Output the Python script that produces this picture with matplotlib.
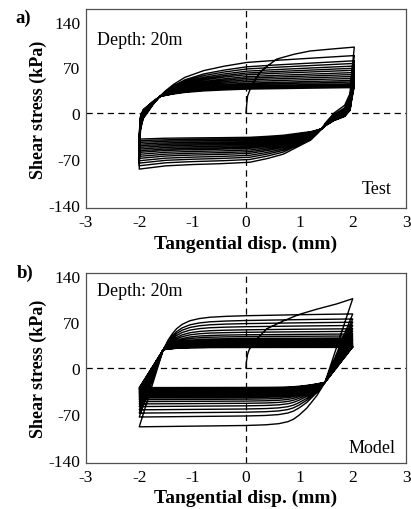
import numpy as np
import matplotlib
matplotlib.use("Agg")
import matplotlib.pyplot as plt

plt.rcParams['font.family'] = ['Liberation Serif', 'DejaVu Serif']
plt.rcParams['axes.unicode_minus'] = False

# ---- data ----
# Test: initial loading curve
test_init_x = [0, 0.01, 0.03, 0.08, 0.15, 0.26, 0.4, 0.58, 0.9, 1.2, 1.6, 2.03]
test_init_y = [0, 10, 26, 37, 48, 62, 72, 82.7, 90, 95, 98, 101]
# stress at the reversal points of each cycle (x=-2 and x=+2)
test_lo = [-85.8, -80.7, -76.6, -73, -69.4, -66.3, -63.2, -60.2, -57.7, -55.1,
           -52.5, -50, -47.5, -44.9, -42.4, -39.8]
test_hi = [88, 80, 76, 72, 68.6, 65.5, 62, 59, 56, 53, 50, 47.5, 45, 43, 41, 39]
test_xrev = (-2.0, 2.03)
# knee points shared by all branches
test_knee_up = (-1.62, 25)
test_knee_dn = (1.42, -24)
# branch shapes: reversal -> knee (u, v) and knee -> end (u, f), as fractions
test_up1_u = [0, 0.026, 0.066, 0.2, 0.395, 0.658, 1]
test_up1_v = [0, 0.369, 0.55, 0.7, 0.775, 0.883, 1]
test_up2_u = [0, 0.03, 0.072, 0.13, 0.227, 0.33, 0.448, 0.6, 0.72, 0.86, 1]
test_up2_f = [0, 0.14, 0.30, 0.47, 0.635, 0.74, 0.833, 0.885, 0.92, 0.96, 1]
test_dn1_u = [0, 0.082, 0.131, 0.295, 0.623, 0.869, 1]
test_dn1_v = [0, 0.328, 0.568, 0.712, 0.808, 0.92, 1]
test_dn2_u = [0, 0.026, 0.06, 0.12, 0.21, 0.3, 0.394, 0.55, 0.707, 0.854, 1]
test_dn2_f = [0, 0.129, 0.28, 0.419, 0.629, 0.74, 0.83, 0.865, 0.887, 0.919, 1]

# Model
model_init_x = [0, 0.005, 0.03, 0.06, 0.14, 0.39, 0.7, 1.0, 1.33, 1.7, 2.0]
model_init_y = [0, 8, 21, 28, 39, 60, 72, 82, 90, 98, 106]
model_lo = [-90, -75, -69, -64, -59, -55, -51.5, -48.5, -46, -44, -42, -40,
            -38.5, -37, -35.5, -34, -33, -32, -31, -30]
model_hi = [82.7, 75, 70, 65, 60, 56, 52, 49, 46, 44, 42, 40, 38, 36.5, 35,
            34, 33, 32.5, 32, 31.5]
model_xrev = (-2.0, 2.0)
model_knee_up = (-1.55, 28)
model_knee_dn = (1.48, -22)
model_up1_u = [0, 1]
model_up1_v = [0, 1]
model_up2_u = [0, 0.028, 0.05, 0.07, 0.1, 0.141, 0.19, 0.246, 0.33, 0.437, 0.718, 1]
model_up2_f = [0, 0.29, 0.46, 0.585, 0.71, 0.81, 0.87, 0.907, 0.932, 0.95, 0.978, 1]
model_dn1_u = [0, 1]
model_dn1_v = [0, 1]
model_dn2_u = [0, 0.043, 0.098, 0.14, 0.17, 0.2, 0.25, 0.32, 0.425, 0.712, 1]
model_dn2_f = [0, 0.294, 0.58, 0.74, 0.83, 0.885, 0.93, 0.955, 0.97, 0.985, 1]

xticks = [-3, -2, -1, 0, 1, 2, 3]
yticks = [-140, -70, 0, 70, 140]


def branch(start, knee, end, u1, v1, u2, f2):
    u1, v1, u2, f2 = map(np.array, (u1, v1, u2, f2))
    x = list(start[0] + u1 * (knee[0] - start[0]))
    y = list(start[1] + v1 * (knee[1] - start[1]))
    x += list(knee[0] + u2[1:] * (end[0] - knee[0]))
    y += list(knee[1] + f2[1:] * (end[1] - knee[1]))
    return x, y


def hysteresis(init_x, init_y, lo, hi, xrev, knee_up, knee_dn, up, dn):
    xs = list(init_x)
    ys = list(init_y)
    top = (init_x[-1], init_y[-1])
    for i in range(len(lo)):
        bottom = (xrev[0], lo[i])
        bx, by = branch(top, knee_dn, bottom, *dn)
        xs += bx
        ys += by
        top = (xrev[1], hi[i])
        bx, by = branch(bottom, knee_up, top, *up)
        xs += bx
        ys += by
    return xs, ys


test_xy = hysteresis(test_init_x, test_init_y, test_lo, test_hi, test_xrev,
                     test_knee_up, test_knee_dn,
                     (test_up1_u, test_up1_v, test_up2_u, test_up2_f),
                     (test_dn1_u, test_dn1_v, test_dn2_u, test_dn2_f))
model_xy = hysteresis(model_init_x, model_init_y, model_lo, model_hi, model_xrev,
                      model_knee_up, model_knee_dn,
                      (model_up1_u, model_up1_v, model_up2_u, model_up2_f),
                      (model_dn1_u, model_dn1_v, model_dn2_u, model_dn2_f))

fig = plt.figure(figsize=(4.11, 5.10), dpi=100)
ax_a = fig.add_axes([0.209, 0.590, 0.779, 0.390])
ax_b = fig.add_axes([0.209, 0.090, 0.779, 0.373])

panels = [
    (ax_a, test_xy, (-145.5, 159), "Test", 0.956, 0.10, 0.85, -0.132),
    (ax_b, model_xy, (-145.5, 145.5), "Model", 0.966, 0.084, 0.905, -0.135),
]

for ax, (xs, ys), ylim, name, nx, ny, dy, xl_y in panels:
    ax.axhline(0, color='black', lw=0.9, ls=(0, (5, 3.5)), zorder=1)
    ax.axvline(0, color='black', lw=0.9, ls=(0, (5, 3.5)), zorder=1)
    ax.plot(xs, ys, color='black', lw=1.0, zorder=2)
    ax.set_xlim(-3, 3)
    ax.set_ylim(*ylim)
    ax.set_xticks(xticks)
    ax.set_yticks(yticks)
    ax.tick_params(length=0, labelsize=12.5, pad=4)
    for sp in ax.spines.values():
        sp.set_color('#505050')
        sp.set_linewidth(0.9)
    ax.set_xlabel("Tangential disp. (mm)", fontsize=14, fontweight='bold', va='top')
    ax.xaxis.set_label_coords(0.5, xl_y)
    ax.set_ylabel("Shear stress (kPa)", fontsize=13, fontweight='bold')
    ax.yaxis.set_label_coords(-0.122, 0.5)
    ax.text(0.034, dy, "Depth: 20m", transform=ax.transAxes, fontsize=13,
            ha='left', va='center')
    ax.text(nx, ny, name, transform=ax.transAxes, fontsize=13,
            ha='right', va='center')

fig.text(0.037, 0.965, "a)", fontsize=13.5, fontweight='bold', va='center')
fig.text(0.041, 0.465, "b)", fontsize=13.5, fontweight='bold', va='center')

fig.savefig("out.png", dpi=100)
